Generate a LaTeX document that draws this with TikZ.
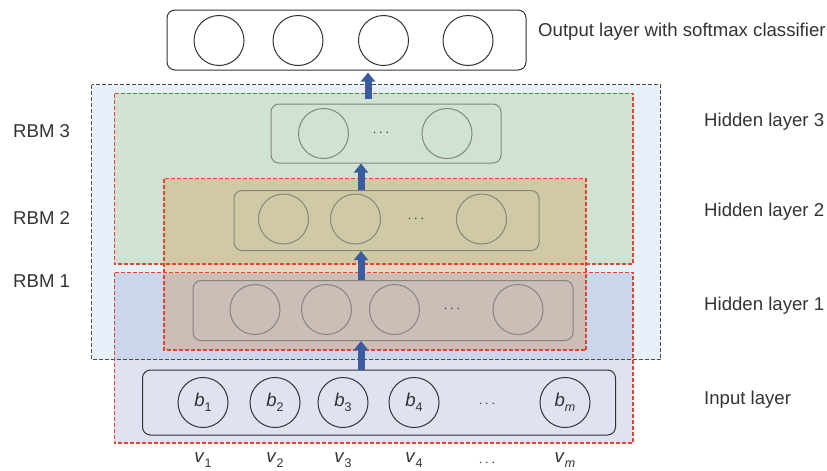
\documentclass[tikz,border=0pt]{standalone}
\usepackage{fontspec}
\setmainfont{Liberation Sans}
\usetikzlibrary{arrows.meta,positioning,calc}
\definecolor{outerblue}{HTML}{E8F1F9}
\definecolor{rbmgreen}{HTML}{D0E3D3}
\definecolor{rbmlav}{HTML}{DFE3F1}
\definecolor{rbmtan}{HTML}{FFE3C7}
\definecolor{redline}{HTML}{E9432D}
\definecolor{greyline}{HTML}{4D4D4D}
\definecolor{boxgrey}{HTML}{85857E}
\definecolor{arrowblue}{HTML}{3A5C9E}
\definecolor{inkdark}{HTML}{333333}
\tikzset{
    x=1pt, y=-1pt,
    layer/.style ={rectangle, rounded corners=8pt, draw=boxgrey, line width=1pt, inner sep=0pt},
    mainlayer/.style ={layer, draw=inkdark},
    unit/.style = {circle, draw=boxgrey, line width=1pt, minimum size=50pt, inner sep=0pt},
    mainunit/.style = {unit, draw=inkdark},
    txt/.style = {font=\fontsize{18.6}{22}\selectfont, text=inkdark, inner sep=0pt},
    side/.style = {txt, anchor=west},
    dots/.style = {font=\fontsize{14}{16}\selectfont, text=inkdark, inner sep=0pt},
    rbm/.style = {draw=redline, line width=1.1pt, dash pattern=on 4pt off 2pt},
    uparrow/.style = {draw=arrowblue, line width=7pt, -{Triangle[width=14pt,length=9pt]}}
}
\newcommand{\unitlbl}[2]{\textit{#1}\raisebox{-0.5ex}{\fontsize{12.5}{13}\selectfont #2}}

\begin{document}
\begin{tikzpicture}
  \useasboundingbox (0,0) rectangle (827,471);

  % stacked RBM regions
  \fill[outerblue] (91.5,84.5) rectangle (660.5,359.5);
  \fill[rbmlav, blend mode=multiply] (114.5,272.5) rectangle (633,443);
  \fill[rbmgreen] (114.5,93.5) rectangle (633,264);
  \fill[rbmtan, blend mode=multiply] (164,178.5) rectangle (586,350);
  \draw[greyline, line width=1.1pt, dash pattern=on 4pt off 2pt] (91.5,84.5) rectangle (660.5,359.5);
  \draw[rbm] (114.5,93.5) rectangle (633,264);
  \draw[rbm] (164,178.5) rectangle (586,350);
  \draw[rbm] (114.5,272.5) rectangle (633,443);

  % layers
  \node (out) at (346.5,40) [mainlayer, minimum width=359pt, minimum height=60pt] {};
  \node (h3) at (386,133.5) [layer, minimum width=230pt, minimum height=59pt] {};
  \node (h2) at (386.5,220.5) [layer, minimum width=305pt, minimum height=60pt] {};
  \node (h1) at (383,310.5) [layer, minimum width=380pt, minimum height=60pt] {};
  \node (in) at (379,402.5) [mainlayer, minimum width=473pt, minimum height=65pt] {};

  \node (o1) at (219,40.5) [mainunit] {};
  \node (o2) at (298,40.5) [mainunit] {};
  \node (o3) at (383.5,40.5) [mainunit] {};
  \node (o4) at (468,40.5) [mainunit] {};

  \node (h3a) at (323.5,133.5) [unit] {};
  \node (h3d) at (381,133.5) [dots] {$\cdots$};
  \node (h3z) at (447,133.5) [unit] {};

  \node (h2a) at (283.5,219) [unit] {};
  \node (h2b) at (355.5,219) [unit] {};
  \node (h2d) at (416,219) [dots] {$\cdots$};
  \node (h2z) at (481.5,219) [unit] {};

  \node (h1a) at (255,309.5) [unit] {};
  \node (h1b) at (326.5,309.5) [unit] {};
  \node (h1c) at (394.5,309.5) [unit] {};
  \node (h1d) at (452,309.5) [dots] {$\cdots$};
  \node (h1z) at (518,309.5) [unit] {};

  \node (b1) at (203,402.5) [mainunit, txt] {\unitlbl{b}{1}};
  \node (b2) at (275,402.5) [mainunit, txt] {\unitlbl{b}{2}};
  \node (b3) at (343,402.5) [mainunit, txt] {\unitlbl{b}{3}};
  \node (b4) at (414,402.5) [mainunit, txt] {\unitlbl{b}{4}};
  \node (bd) at (487,404) [dots] {$\cdots$};
  \node (bm) at (565,402.5) [mainunit, txt] {\unitlbl{b}{\textit{m}}};

  \node (v1) at (b1 |- 0,460) [txt] {\unitlbl{v}{1}};
  \node (v2) at (b2 |- 0,460) [txt] {\unitlbl{v}{2}};
  \node (v3) at (b3 |- 0,460) [txt] {\unitlbl{v}{3}};
  \node (v4) at (b4 |- 0,460) [txt] {\unitlbl{v}{4}};
  \node (vd) at (bd |- 0,463) [dots] {$\cdots$};
  \node (vm) at (bm |- 0,460) [txt] {\unitlbl{v}{\textit{m}}};

  % labels
  \node (lout) at (538,31.5) [side] {Output layer with softmax classifier};
  \node (l3) at (704,122) [side] {Hidden layer 3};
  \node (l2) at (704,212) [side] {Hidden layer 2};
  \node (l1) at (704,306) [side] {Hidden layer 1};
  \node (lin) at (704,400) [side] {Input layer};
  \node (r3) at (13,131) [side] {RBM 3};
  \node (r2) at (13,218) [side] {RBM 2};
  \node (r1) at (13,281) [side] {RBM 1};

  % arrows
  \coordinate (ax) at (361,0);
  \coordinate (axtop) at (368,0);
  \draw[uparrow] ([yshift=5pt]axtop |- h3.north) -- ([yshift=-2pt]axtop |- out.south);
  \draw[uparrow] (ax |- h2.north) -- (ax |- h3.south);
  \draw[uparrow] (ax |- h1.north) -- (ax |- h2.south);
  \draw[uparrow] (ax |- in.north) -- (ax |- h1.south);

\end{tikzpicture}
\end{document}
